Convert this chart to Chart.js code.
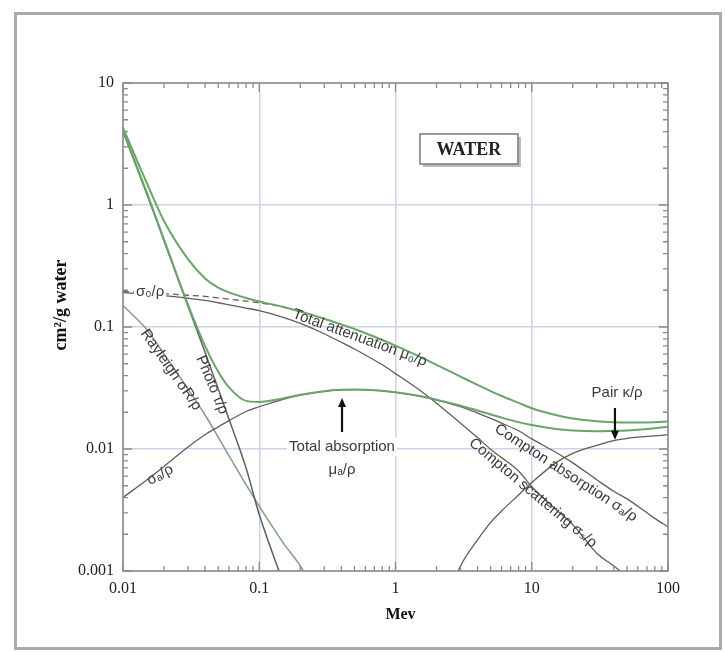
<!DOCTYPE html>
<html>
<head>
<meta charset="utf-8">
<script src="https://cdn.jsdelivr.net/npm/chart.js@4.4.1/dist/chart.umd.min.js"></script>
<style>
  html, body { margin: 0; padding: 0; background: #fff; }
  #frame { position: absolute; left: 14px; top: 12px; width: 702px; height: 632px; border: 3px solid #ababab; }
  #wrap { position: absolute; left: 0; top: 0; width: 725px; height: 652px; }
</style>
</head>
<body>
<div id="frame"></div>
<div id="wrap"><canvas id="chart"></canvas></div>
<script>
// photon energy grid (MeV)
const energyMeV = [0.01, 0.015, 0.02, 0.03, 0.04, 0.05, 0.06, 0.08, 0.1, 0.15, 0.2, 0.3, 0.4, 0.5, 0.6, 0.8,
  1, 1.5, 2, 3, 4, 5, 6, 8, 10, 15, 20, 30, 40, 50, 60, 80, 100];

// cm^2/g
const totalAttenuation = [4.3, 1.5, 0.74, 0.36, 0.25, 0.21, 0.192, 0.173, 0.162, 0.146, 0.134, 0.117, 0.105, 0.0962, 0.089, 0.0783,
  0.0703, 0.0572, 0.049, 0.0392, 0.0335, 0.0298, 0.0272, 0.0239, 0.0216, 0.019, 0.0178, 0.0169, 0.0166, 0.0165, 0.0165, 0.0166, 0.0168];
const totalAbsorption = [4.1, 1.25, 0.52, 0.152, 0.07, 0.043, 0.032, 0.0248, 0.0243, 0.026, 0.0278, 0.0298, 0.0306, 0.0308, 0.0306, 0.03,
  0.0292, 0.0272, 0.0254, 0.0226, 0.0207, 0.0192, 0.0181, 0.0166, 0.0157, 0.0146, 0.0142, 0.014, 0.0141, 0.0142, 0.0144, 0.0148, 0.0152];
const comptonAtten = [0.195, 0.192, 0.188, 0.182, 0.178, 0.173, 0.169, 0.163, 0.158, 0.146, 0.134, null, null, null, null, null,
  null, null, null, null, null, null, null, null, null, null, null, null, null, null, null, null, null];
const comptonAbsorb = [0.004, 0.0056, 0.0072, 0.0104, 0.0131, 0.0152, 0.0171, 0.0203, 0.0222, 0.0255, 0.0276, 0.0297, 0.0305, 0.0307, 0.0305, 0.0299,
  0.0291, 0.0271, 0.0252, 0.0222, 0.0197, 0.0178, 0.0163, 0.0141, 0.0121, 0.0094, 0.0077, 0.0056, 0.0045, 0.0039, 0.0034, 0.0027, 0.0023];
const comptonScatter = [0.191, 0.186, 0.181, 0.172, 0.165, 0.158, 0.152, 0.143, 0.136, 0.12, 0.107, 0.088, 0.075, 0.066, 0.059, 0.049,
  0.0415, 0.0304, 0.0237, 0.0163, 0.0124, 0.0099, 0.0085, 0.0066, 0.0049, 0.0032, 0.0024, 0.0014, 0.0011, 0.0009, 0.00075, 0.0006, 0.0005];
const photoelectric = [4.0, 1.22, 0.51, 0.148, 0.062, 0.031, 0.0175, 0.007, 0.0029, 0.0008, null, null, null, null, null, null,
  null, null, null, null, null, null, null, null, null, null, null, null, null, null, null, null, null];
const rayleigh = [0.15, 0.095, 0.06, 0.031, 0.019, 0.0125, 0.0088, 0.0051, 0.0034, 0.0017, 0.0011, 0.0005, null, null, null, null,
  null, null, null, null, null, null, null, null, null, null, null, null, null, null, null, null, null];
const pairProduction = [null, null, null, null, null, null, null, null, null, null, null, null, null, null, null, null,
  null, null, 0.00035, 0.0011, 0.0018, 0.0025, 0.0031, 0.0042, 0.0053, 0.0077, 0.0092, 0.0107, 0.0117, 0.0122, 0.0125, 0.0128, 0.0131];

const xTickValues = [0.01, 0.1, 1, 10, 100];
const xTickLabels = ["0.01", "0.1", "1", "10", "100"];
const yTickValues = [0.001, 0.01, 0.1, 1, 10];
const yTickLabels = ["0.001", "0.01", "0.1", "1", "10"];

const GREEN = "#69a469";
const GREY = "#5e5e5e";
const SANS = "'Liberation Sans', 'DejaVu Sans'";
const SERIF = "'Liberation Serif', 'DejaVu Serif'";

function points(values) {
  return energyMeV.map((e, i) => ({ x: e, y: values[i] })).filter(p => p.y !== null);
}

function series(label, values, color, width, dash) {
  return {
    label: label,
    data: points(values),
    borderColor: color,
    borderWidth: width,
    borderDash: dash || [],
    pointRadius: 0,
    cubicInterpolationMode: "monotone",
    fill: false
  };
}

// text placed at (MeV, cm2/g) positions
const notes = [
  { text: "σ₀/ρ", e: 0.0158, v: 0.194, angle: 0, bg: true },
  { text: "Rayleigh σR/ρ", e: 0.0225, v: 0.0445, angle: 55 },
  { text: "Photo τ/ρ", e: 0.045, v: 0.0335, angle: 67 },
  { text: "Total attenuation μ₀/ρ", e: 0.548, v: 0.0813, angle: 20 },
  { text: "Total absorption", e: 0.405, v: 0.0104, angle: 0, bg: true },
  { text: "μₐ/ρ", e: 0.405, v: 0.00673, angle: 0 },
  { text: "Pair κ/ρ", e: 42.3, v: 0.0288, angle: 0 },
  { text: "Compton absorption σₐ/ρ", e: 17.8, v: 0.00636, angle: 33 },
  { text: "Compton scattering σₛ/ρ", e: 10.2, v: 0.00436, angle: 40 },
  { text: "σₐ/ρ", e: 0.0187, v: 0.00612, angle: -29 }
];

const arrows = [
  { e: 0.405, from: 0.0138, to: 0.0262 },
  { e: 40.8, from: 0.0217, to: 0.0119 }
];

const decorations = {
  id: "decorations",
  afterDatasetsDraw(chart) {
    const { ctx, chartArea: a, scales: { x, y } } = chart;
    ctx.save();

    // frame
    ctx.strokeStyle = "#8a8a8a";
    ctx.lineWidth = 1.5;
    ctx.strokeRect(a.left, a.top, a.right - a.left, a.bottom - a.top);

    // inward ticks on all four sides
    ctx.lineWidth = 1.3;
    ctx.beginPath();
    for (let p = -2; p <= 2; p++) {
      for (let m = 1; m <= 9; m++) {
        const v = m * Math.pow(10, p);
        if (v > 100) break;
        const px = x.getPixelForValue(v);
        const len = m === 1 ? 9 : 5;
        ctx.moveTo(px, a.bottom); ctx.lineTo(px, a.bottom - len);
        ctx.moveTo(px, a.top); ctx.lineTo(px, a.top + len);
      }
    }
    for (let p = -3; p <= 1; p++) {
      for (let m = 1; m <= 9; m++) {
        const v = m * Math.pow(10, p);
        if (v > 10) break;
        const py = y.getPixelForValue(v);
        const len = m === 1 ? 9 : 5;
        ctx.moveTo(a.left, py); ctx.lineTo(a.left + len, py);
        ctx.moveTo(a.right, py); ctx.lineTo(a.right - len, py);
      }
    }
    ctx.stroke();

    // axis titles
    ctx.fillStyle = "#111";
    ctx.textAlign = "center";
    ctx.textBaseline = "middle";
    ctx.font = "bold 16px " + SERIF;
    ctx.fillText("Mev", x.getPixelForValue(1) + 5, a.bottom + 44);
    ctx.save();
    ctx.translate(a.left - 62, 305);
    ctx.rotate(-Math.PI / 2);
    ctx.font = "bold 18px " + SERIF;
    ctx.fillText("cm²/g water", 0, 0);
    ctx.restore();

    // WATER box
    const bx = x.getPixelForValue(3.46), by = y.getPixelForValue(2.88);
    ctx.fillStyle = "#b9b9b9";
    ctx.fillRect(bx - 46, by - 12, 98, 30);
    ctx.fillStyle = "#fff";
    ctx.fillRect(bx - 49, by - 15, 98, 30);
    ctx.strokeStyle = "#7a7a7a";
    ctx.lineWidth = 1.5;
    ctx.strokeRect(bx - 49, by - 15, 98, 30);
    ctx.fillStyle = "#222";
    ctx.font = "bold 18px " + SERIF;
    ctx.fillText("WATER", bx, by + 1);

    // curve notes
    notes.forEach(n => {
      const px = x.getPixelForValue(n.e), py = y.getPixelForValue(n.v);
      ctx.save();
      ctx.translate(px, py);
      ctx.rotate(n.angle * Math.PI / 180);
      ctx.font = "15px " + SANS;
      if (n.bg) {
        const w = ctx.measureText(n.text).width;
        ctx.fillStyle = "#fff";
        ctx.fillRect(-w / 2 - 2, -9, w + 4, 18);
      }
      ctx.fillStyle = "#3a3a3a";
      ctx.textAlign = "center";
      ctx.textBaseline = "middle";
      ctx.fillText(n.text, 0, 0);
      ctx.restore();
    });

    // arrows
    ctx.strokeStyle = "#111";
    ctx.fillStyle = "#111";
    ctx.lineWidth = 2.2;
    arrows.forEach(ar => {
      const px = x.getPixelForValue(ar.e);
      const y0 = y.getPixelForValue(ar.from), y1 = y.getPixelForValue(ar.to);
      const dir = y1 < y0 ? -1 : 1;
      ctx.beginPath();
      ctx.moveTo(px, y0);
      ctx.lineTo(px, y1 - dir * 6);
      ctx.stroke();
      ctx.beginPath();
      ctx.moveTo(px, y1);
      ctx.lineTo(px - 4, y1 - dir * 9);
      ctx.lineTo(px + 4, y1 - dir * 9);
      ctx.closePath();
      ctx.fill();
    });
    ctx.restore();
  }
};

new Chart(document.getElementById("chart"), {
  type: "line",
  data: {
    datasets: [
      series("Total attenuation", totalAttenuation, GREEN, 2),
      series("Total absorption", totalAbsorption, GREEN, 2),
      series("Compton attenuation", comptonAtten, GREY, 1.3, [6, 4]),
      series("Compton absorption", comptonAbsorb, GREY, 1.3),
      series("Compton scattering", comptonScatter, GREY, 1.3),
      series("Photo", photoelectric, GREY, 1.5),
      series("Rayleigh", rayleigh, "#7f9f7f", 1.5),
      series("Pair", pairProduction, GREY, 1.3)
    ]
  },
  options: {
    responsive: true,
    maintainAspectRatio: false,
    animation: false,
    layout: { padding: { left: 30, top: 83, right: 57, bottom: 30 } },
    plugins: {
      legend: { display: false },
      tooltip: { enabled: false }
    },
    scales: {
      x: {
        type: "logarithmic",
        min: 0.01,
        max: 100,
        afterBuildTicks: s => { s.ticks = xTickValues.map(v => ({ value: v })); },
        afterFit: s => { s.height = 51; },
        grid: { color: "#cdd1ea", lineWidth: 1.5, drawTicks: false },
        border: { display: false },
        ticks: {
          padding: 8,
          color: "#222",
          font: { family: SERIF, size: 16 },
          callback: (v, i) => xTickLabels[i]
        }
      },
      y: {
        type: "logarithmic",
        min: 0.001,
        max: 10,
        afterBuildTicks: s => { s.ticks = yTickValues.map(v => ({ value: v })); },
        afterFit: s => { s.width = 93; },
        grid: { color: "#cdd1ea", lineWidth: 1.5, drawTicks: false },
        border: { display: false },
        ticks: {
          padding: 9,
          color: "#222",
          font: { family: SERIF, size: 16 },
          callback: (v, i) => yTickLabels[i]
        }
      }
    }
  },
  plugins: [decorations]
});
</script>
</body>
</html>
